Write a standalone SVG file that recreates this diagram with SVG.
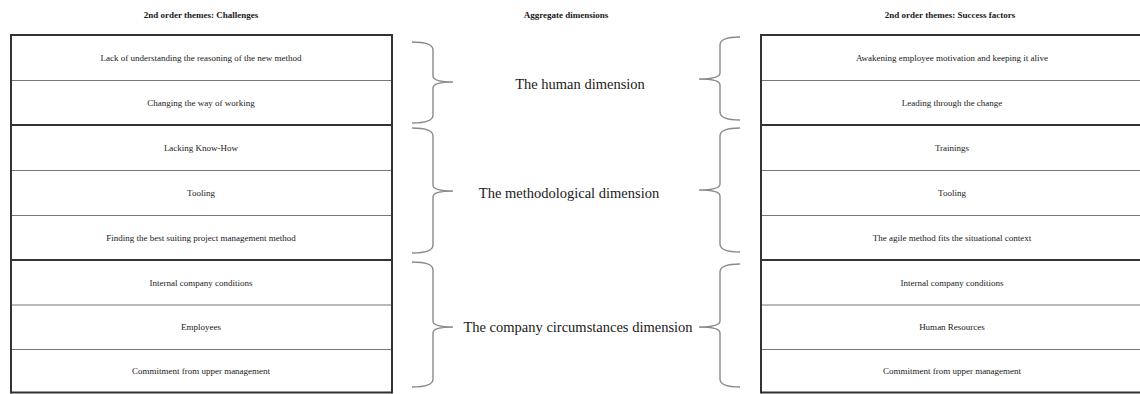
<svg xmlns="http://www.w3.org/2000/svg" width="1140" height="394" viewBox="0 0 1140 394">
<style>
text{font-family:"Liberation Serif","Times New Roman",serif;fill:#1a1a1a}
.h{font-size:9px;font-weight:bold;text-anchor:middle}
.c{font-size:9px;text-anchor:middle}
.d{font-size:14.5px;text-anchor:middle}
.thin{stroke:#777;stroke-width:1.2;fill:none}
.thick{stroke:#333;stroke-width:2;fill:none}
.brace{stroke:#8a8a8a;stroke-width:1.4;fill:none}
</style>
<rect width="1140" height="394" fill="#fff"/>
<g id="headers">
<text class="h" x="201" y="18">2nd order themes: Challenges</text>
<text class="h" x="566" y="18">Aggregate dimensions</text>
<text class="h" x="950" y="18">2nd order themes: Success factors</text>
</g>
<g id="challenges">
<line class="thin" x1="11" y1="80.5" x2="392" y2="80.5"/>
<line class="thin" x1="11" y1="170.5" x2="392" y2="170.5"/>
<line class="thin" x1="11" y1="215.5" x2="392" y2="215.5"/>
<line class="thin" x1="11" y1="305" x2="392" y2="305"/>
<line class="thin" x1="11" y1="349.5" x2="392" y2="349.5"/>
<line class="thick" x1="11" y1="35" x2="392" y2="35"/>
<line class="thick" x1="11" y1="125" x2="392" y2="125"/>
<line class="thick" x1="11" y1="260" x2="392" y2="260"/>
<line class="thick" x1="11" y1="392.5" x2="392" y2="392.5"/>
<line class="thick" x1="11" y1="34" x2="11" y2="393.5"/>
<line class="thick" x1="392" y1="34" x2="392" y2="393.5"/>
<text class="c" x="201" y="61">Lack of understanding the reasoning of the new method</text>
<text class="c" x="201" y="106">Changing the way of working</text>
<text class="c" x="201" y="151">Lacking Know-How</text>
<text class="c" x="201" y="196">Tooling</text>
<text class="c" x="201" y="241">Finding the best suiting project management method</text>
<text class="c" x="201" y="286">Internal company conditions</text>
<text class="c" x="201" y="330">Employees</text>
<text class="c" x="201" y="374">Commitment from upper management</text>
</g>
<g id="success">
<line class="thin" x1="761" y1="80.5" x2="1140" y2="80.5"/>
<line class="thin" x1="761" y1="170.5" x2="1140" y2="170.5"/>
<line class="thin" x1="761" y1="215.5" x2="1140" y2="215.5"/>
<line class="thin" x1="761" y1="305" x2="1140" y2="305"/>
<line class="thin" x1="761" y1="349.5" x2="1140" y2="349.5"/>
<line class="thick" x1="761" y1="35" x2="1140" y2="35"/>
<line class="thick" x1="761" y1="125" x2="1140" y2="125"/>
<line class="thick" x1="761" y1="260" x2="1140" y2="260"/>
<line class="thick" x1="761" y1="392.5" x2="1140" y2="392.5"/>
<line class="thick" x1="761" y1="34" x2="761" y2="393.5"/>
<text class="c" x="952" y="61">Awakening employee motivation and keeping it alive</text>
<text class="c" x="952" y="106">Leading through the change</text>
<text class="c" x="952" y="151">Trainings</text>
<text class="c" x="952" y="196">Tooling</text>
<text class="c" x="952" y="241">The agile method fits the situational context</text>
<text class="c" x="952" y="286">Internal company conditions</text>
<text class="c" x="952" y="330">Human Resources</text>
<text class="c" x="952" y="374">Commitment from upper management</text>
</g>
<g id="dimensions">
<text class="d" x="580" y="89">The human dimension</text>
<text class="d" x="569" y="198">The methodological dimension</text>
<text class="d" x="578" y="332">The company circumstances dimension</text>
</g>
<g id="connectors">
<path class="brace" d="M412,42 Q433,42 433,50 L433,76 Q433,82 453,82 Q433,82 433,88 L433,115 Q433,123 412,123"/>
<path class="brace" d="M412,128 Q433,128 433,136 L433,185 Q433,191 453,191 Q433,191 433,197 L433,245 Q433,253 412,253"/>
<path class="brace" d="M412,262 Q433,262 433,270 L433,321 Q433,327 453,327 Q433,327 433,333 L433,379 Q433,387 412,387"/>
<path class="brace" d="M740,37 Q720,37 720,45 L720,73 Q720,79 699,79 Q720,79 720,85 L720,112 Q720,120 740,120"/>
<path class="brace" d="M740,128 Q720,128 720,136 L720,184 Q720,190 699,190 Q720,190 720,196 L720,244 Q720,252 740,252"/>
<path class="brace" d="M740,264 Q720,264 720,272 L720,321 Q720,327 699,327 Q720,327 720,333 L720,379 Q720,387 740,387"/>
</g>
</svg>
